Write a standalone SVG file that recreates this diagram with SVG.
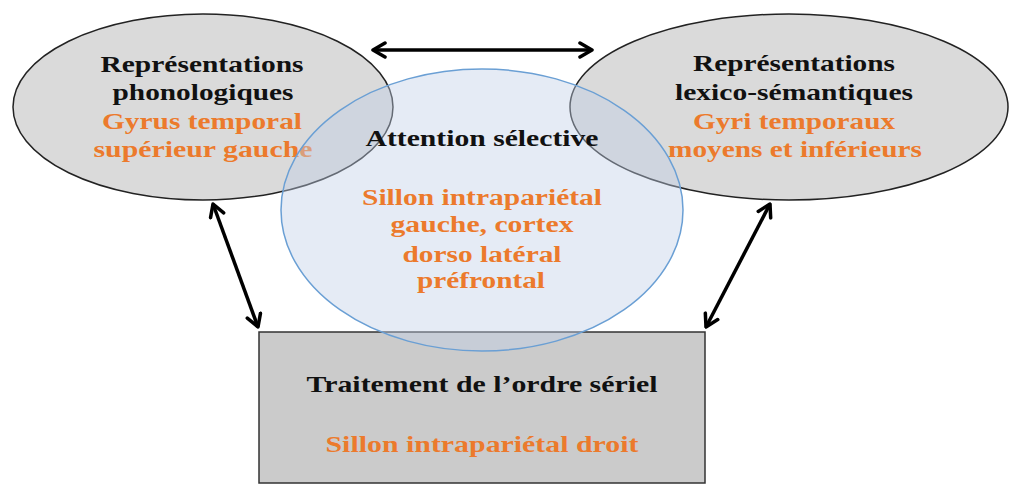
<svg xmlns="http://www.w3.org/2000/svg" width="1011" height="484" viewBox="0 0 1011 484">
<defs>
<style>
.oval{fill:#dadada;stroke:#222;stroke-width:1.5}
.box{fill:#cbcbcb;stroke:#333;stroke-width:1.5}
.att{fill:#c0d0e6;fill-opacity:0.42;stroke:#6a9fd4;stroke-width:1.5}
.t{font-family:"Liberation Serif","Times New Roman",serif;font-weight:bold;font-size:23px}
.k{fill:#111}
.o{fill:#ec7a2c}
.conn{stroke:#000;stroke-width:3.5;fill:none;marker-start:url(#ah);marker-end:url(#ah)}
</style>
<marker id="ah" markerUnits="userSpaceOnUse" viewBox="-14 -9 16 18" refX="0" refY="0" markerWidth="16" markerHeight="18" orient="auto-start-reverse">
<path d="M-12,-7 L0,0 L-12,7" fill="none" stroke="#000" stroke-width="3.5" stroke-linejoin="round" stroke-linecap="round"/>
</marker>
</defs>
<rect width="1011" height="484" fill="#fff"/>
<g id="node-serial">
<rect class="box" x="259" y="332" width="446" height="151"/>
<text class="t k" x="482" y="392" text-anchor="middle" textLength="351" lengthAdjust="spacingAndGlyphs">Traitement de l’ordre sériel</text>
<text class="t o" x="482" y="452" text-anchor="middle" textLength="313" lengthAdjust="spacingAndGlyphs">Sillon intrapariétal droit</text>
</g>
<g id="node-phono">
<ellipse class="oval" cx="203" cy="107" rx="190" ry="93"/>
<text class="t k" x="202" y="72" text-anchor="middle" textLength="203" lengthAdjust="spacingAndGlyphs">Représentations</text>
<text class="t k" x="203" y="100" text-anchor="middle" textLength="181" lengthAdjust="spacingAndGlyphs">phonologiques</text>
<text class="t o" x="202" y="129" text-anchor="middle" textLength="200" lengthAdjust="spacingAndGlyphs">Gyrus temporal</text>
<text class="t o" x="203" y="157" text-anchor="middle" textLength="219" lengthAdjust="spacingAndGlyphs">supérieur gauche</text>
</g>
<g id="node-lexico">
<ellipse class="oval" cx="789" cy="107" rx="219" ry="93"/>
<text class="t k" x="794" y="71" text-anchor="middle" textLength="202" lengthAdjust="spacingAndGlyphs">Représentations</text>
<text class="t k" x="794" y="100" text-anchor="middle" textLength="238" lengthAdjust="spacingAndGlyphs">lexico-sémantiques</text>
<text class="t o" x="794" y="129" text-anchor="middle" textLength="202" lengthAdjust="spacingAndGlyphs">Gyri temporaux</text>
<text class="t o" x="795" y="157" text-anchor="middle" textLength="254" lengthAdjust="spacingAndGlyphs">moyens et inférieurs</text>
</g>
<g id="node-attention">
<ellipse class="att" cx="482" cy="210" rx="201" ry="141"/>
<text class="t k" x="482" y="146" text-anchor="middle" textLength="233" lengthAdjust="spacingAndGlyphs">Attention sélective</text>
<text class="t o" x="482" y="205" text-anchor="middle" textLength="240" lengthAdjust="spacingAndGlyphs">Sillon intrapariétal</text>
<text class="t o" x="482" y="232" text-anchor="middle" textLength="183" lengthAdjust="spacingAndGlyphs">gauche, cortex</text>
<text class="t o" x="482" y="262" text-anchor="middle" textLength="159" lengthAdjust="spacingAndGlyphs">dorso latéral</text>
<text class="t o" x="481" y="288" text-anchor="middle" textLength="128" lengthAdjust="spacingAndGlyphs">préfrontal</text>
</g>
<g id="connectors">
<line class="conn" x1="373" y1="50" x2="592" y2="50"/>
<line class="conn" x1="213" y1="204" x2="258" y2="327"/>
<line class="conn" x1="770" y1="204" x2="706" y2="327"/>
</g>
</svg>
